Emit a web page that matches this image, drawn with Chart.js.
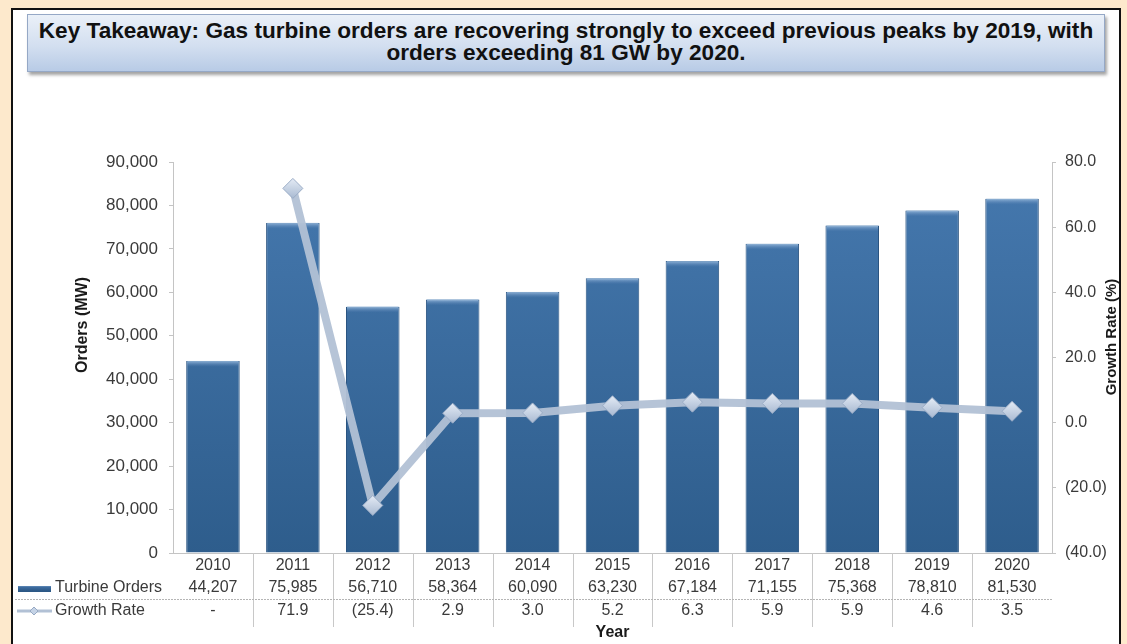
<!DOCTYPE html>
<html>
<head>
<meta charset="utf-8">
<title>Gas Turbine Orders</title>
<script src="https://cdn.jsdelivr.net/npm/chart.js@4.4.1/dist/chart.umd.min.js"></script>
<style>
  html, body {
    margin: 0;
    padding: 0;
    width: 1127px;
    height: 644px;
    overflow: hidden;
    background: #fde9cc;
    font-family: 'Liberation Sans', Arial, sans-serif;
  }
  #frame {
    position: absolute;
    left: 11px;
    top: 8px;
    width: 1106px;
    height: 700px;
    background: #ffffff;
    border: 2px solid #111111;
  }
  #takeaway {
    position: absolute;
    left: 27px;
    top: 14px;
    width: 1078px;
    height: 58px;
    box-sizing: border-box;
    border: 1px solid #95a8c6;
    background: linear-gradient(to bottom, #eaf0f8 0%, #d3dff0 55%, #b8cbe6 100%);
    box-shadow: 2px 3px 3px rgba(90, 90, 90, 0.55);
    display: flex;
    align-items: center;
    justify-content: center;
    text-align: center;
    font-weight: bold;
    font-size: 22.6px;
    line-height: 22px;
    color: #111111;
    padding-bottom: 3px;
    white-space: nowrap;
  }
  #chart {
    position: absolute;
    left: 0;
    top: 0;
  }
</style>
</head>
<body>
<div id="frame"></div>
<div id="takeaway">Key Takeaway: Gas turbine orders are recovering strongly to exceed previous peaks by 2019, with<br>orders exceeding 81 GW by 2020.</div>
<canvas id="chart" width="1127" height="644"></canvas>
<script>
// Yearly gas turbine orders (MW) and year-on-year growth (%)
const years = ['2010', '2011', '2012', '2013', '2014', '2015', '2016', '2017', '2018', '2019', '2020'];
const turbineOrders = [44207, 75985, 56710, 58364, 60090, 63230, 67184, 71155, 75368, 78810, 81530];
const growthRate = [null, 71.9, -25.4, 2.9, 3.0, 5.2, 6.3, 5.9, 5.9, 4.6, 3.5];

const ordersTicks = { min: 0, max: 90000, step: 10000 };
const growthTicks = { min: -40, max: 80, step: 20 };

const FONT = "'Liberation Sans', Arial, sans-serif";
const TEXT = '#3a3a3a';
const AXIS = '#c4c4c4';

function fmtOrders(v) {
    return Number(v).toLocaleString('en-US');
}

function fmtGrowth(v) {
    if (v === null || v === undefined) return '-';
    return v < 0 ? '(' + Math.abs(v).toFixed(1) + ')' : v.toFixed(1);
}

// Table under the plot, legend keys and axis titles
const dataTablePlugin = {
    id: 'dataTable',
    afterDatasetDraw(chart, args) {
        // light strip along the top of every bar
        if (args.index !== 0) return;
        const ctx = chart.ctx;
        const meta = chart.getDatasetMeta(0);
        ctx.save();
        meta.data.forEach(bar => {
            const left = bar.x - bar.width / 2;
            const g = ctx.createLinearGradient(0, bar.y, 0, bar.y + 6);
            g.addColorStop(0, 'rgba(150,185,220,0.95)');
            g.addColorStop(1, 'rgba(90,130,180,0)');
            ctx.fillStyle = g;
            ctx.fillRect(left + 1, bar.y, bar.width - 2, 6);
        });
        ctx.restore();
    },
    afterDraw(chart) {
        const ctx = chart.ctx;
        const x = chart.scales.x;
        const area = chart.chartArea;
        const rowOrders = 588;
        const rowGrowth = 611;

        ctx.save();

        // column separators
        ctx.strokeStyle = '#c8c8c8';
        ctx.lineWidth = 1;
        for (let i = 1; i < years.length; i++) {
            const sx = Math.round((x.getPixelForValue(i - 1) + x.getPixelForValue(i)) / 2) + 0.5;
            ctx.beginPath();
            ctx.moveTo(sx, area.bottom);
            ctx.lineTo(sx, 627);
            ctx.stroke();
        }

        // dotted rule between the two data rows
        ctx.setLineDash([2, 1]);
        ctx.strokeStyle = '#b5b5b5';
        ctx.beginPath();
        ctx.moveTo(15, 599.5);
        ctx.lineTo(area.right, 599.5);
        ctx.stroke();
        ctx.setLineDash([]);

        // data rows
        ctx.fillStyle = TEXT;
        ctx.font = '16px ' + FONT;
        ctx.textAlign = 'center';
        ctx.textBaseline = 'middle';
        turbineOrders.forEach((v, i) => {
            ctx.fillText(fmtOrders(v), x.getPixelForValue(i), rowOrders);
        });
        growthRate.forEach((v, i) => {
            ctx.fillText(fmtGrowth(v), x.getPixelForValue(i), rowGrowth);
        });

        // legend keys
        const barKey = ctx.createLinearGradient(0, rowOrders - 3, 0, rowOrders + 3);
        barKey.addColorStop(0, '#7fa3cc');
        barKey.addColorStop(0.4, '#3d6c9f');
        barKey.addColorStop(1, '#2c5885');
        ctx.fillStyle = barKey;
        ctx.fillRect(18, rowOrders - 2, 33, 6);

        ctx.strokeStyle = '#b2c1d5';
        ctx.lineWidth = 3;
        ctx.beginPath();
        ctx.moveTo(17, rowGrowth);
        ctx.lineTo(52, rowGrowth);
        ctx.stroke();
        ctx.fillStyle = '#c5d3e6';
        ctx.strokeStyle = '#97a9c3';
        ctx.lineWidth = 1;
        ctx.beginPath();
        ctx.moveTo(34, rowGrowth - 4);
        ctx.lineTo(38, rowGrowth);
        ctx.lineTo(34, rowGrowth + 4);
        ctx.lineTo(30, rowGrowth);
        ctx.closePath();
        ctx.fill();
        ctx.stroke();

        ctx.fillStyle = TEXT;
        ctx.textAlign = 'left';
        ctx.fillText('Turbine Orders', 55, rowOrders);
        ctx.fillText('Growth Rate', 55, rowGrowth);

        // axis titles
        ctx.fillStyle = '#1a1a1a';
        ctx.font = 'bold 16px ' + FONT;
        ctx.textAlign = 'center';
        ctx.fillText('Year', (area.left + area.right) / 2, 633);

        ctx.save();
        ctx.translate(83, 325);
        ctx.rotate(-Math.PI / 2);
        ctx.fillText('Orders (MW)', 0, 0);
        ctx.restore();

        ctx.save();
        ctx.font = 'bold 15px ' + FONT;
        ctx.translate(1112, 337);
        ctx.rotate(-Math.PI / 2);
        ctx.fillText('Growth Rate (%)', 0, 0);
        ctx.restore();

        ctx.restore();
    }
};

function barFill(context) {
    const chart = context.chart;
    const area = chart.chartArea;
    if (!area) return '#3b6a9c';
    const g = chart.ctx.createLinearGradient(0, area.top, 0, area.bottom);
    g.addColorStop(0, '#4679af');
    g.addColorStop(1, '#2e5d8c');
    return g;
}

function pointFill(context) {
    const chart = context.chart;
    const el = context.element;
    if (!el || el.y === undefined) return '#c5d3e6';
    const g = chart.ctx.createLinearGradient(0, el.y - 10, 0, el.y + 10);
    g.addColorStop(0, '#e4ebf5');
    g.addColorStop(1, '#a9bad2');
    return g;
}

new Chart(document.getElementById('chart'), {
    type: 'bar',
    data: {
        labels: years,
        datasets: [
            {
                label: 'Turbine Orders',
                data: turbineOrders,
                yAxisID: 'y',
                backgroundColor: barFill,
                borderColor: '#2a5481',
                borderWidth: 1,
                categoryPercentage: 1.0,
                barPercentage: 0.67,
                order: 1
            },
            {
                type: 'line',
                label: 'Growth Rate',
                data: growthRate,
                yAxisID: 'y1',
                borderColor: 'rgba(178,193,213,0.95)',
                borderWidth: 8,
                tension: 0,
                pointStyle: 'rectRot',
                pointRadius: 10,
                pointBackgroundColor: pointFill,
                pointBorderColor: '#9aacc6',
                pointBorderWidth: 1,
                order: 0
            }
        ]
    },
    options: {
        responsive: false,
        animation: false,
        devicePixelRatio: 1,
        layout: { padding: { top: 162, left: 0, right: 0, bottom: 0 } },
        plugins: {
            legend: { display: false },
            title: { display: false },
            tooltip: { enabled: false }
        },
        scales: {
            x: {
                offset: true,
                grid: { display: true, drawOnChartArea: false, drawTicks: false },
                border: { color: AXIS },
                ticks: {
                    color: TEXT,
                    font: { family: FONT, size: 16 },
                    padding: 3,
                    maxRotation: 0,
                    autoSkip: false
                },
                afterFit(scale) { scale.height = 91; }
            },
            y: {
                position: 'left',
                min: ordersTicks.min,
                max: ordersTicks.max,
                grid: { display: true, drawOnChartArea: false, drawTicks: true, tickLength: 4, color: AXIS },
                border: { color: AXIS },
                ticks: {
                    stepSize: ordersTicks.step,
                    color: TEXT,
                    font: { family: FONT, size: 17 },
                    padding: 11,
                    callback: v => fmtOrders(v)
                },
                afterFit(scale) { scale.width = 173; }
            },
            y1: {
                position: 'right',
                min: growthTicks.min,
                max: growthTicks.max,
                grid: { display: true, drawOnChartArea: false, drawTicks: true, tickLength: 4, color: AXIS },
                border: { color: AXIS },
                ticks: {
                    stepSize: growthTicks.step,
                    color: TEXT,
                    font: { family: FONT, size: 16 },
                    padding: 9,
                    callback: v => fmtGrowth(v)
                },
                afterFit(scale) { scale.width = 75; }
            }
        }
    },
    plugins: [dataTablePlugin]
});
</script>
</body>
</html>
